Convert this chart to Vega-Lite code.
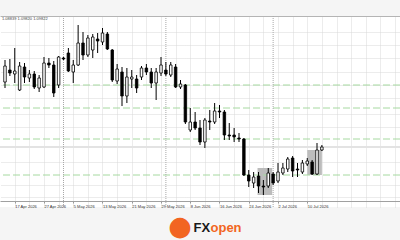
{
  "$schema": "https://vega.github.io/schema/vega-lite/v6.json",
  "autosize": {"type": "none"},
  "width": 400,
  "height": 191,
  "padding": {"top": 16, "left": 0, "right": 0, "bottom": 33},
  "background": "#f5f5f5",
  "title": {"text": "1.08839 1.09820 1.09822", "anchor": "start", "frame": "group", "orient": "top", "offset": -5, "dx": 2, "fontSize": 4, "font": "Liberation Sans", "fontWeight": "normal", "color": "#444444"},
  "config": {"view": {"fill": "white", "stroke": null}},
  "datasets": {
    "candles": [
      {"k":0,"open":1.0925,"high":1.0947,"low":1.0919,"close":1.0941},
      {"k":1,"open":1.0937,"high":1.0948,"low":1.0931,"close":1.0934},
      {"k":2,"open":1.0933,"high":1.0959,"low":1.0924,"close":1.0936},
      {"k":3,"open":1.0917,"high":1.0945,"low":1.0916,"close":1.0941},
      {"k":4,"open":1.0940,"high":1.0944,"low":1.0924,"close":1.0930},
      {"k":5,"open":1.0929,"high":1.0937,"low":1.0925,"close":1.0933},
      {"k":6,"open":1.0933,"high":1.0936,"low":1.0918,"close":1.0920},
      {"k":7,"open":1.0919,"high":1.0932,"low":1.0915,"close":1.0929},
      {"k":8,"open":1.0920,"high":1.0950,"low":1.0919,"close":1.0944},
      {"k":9,"open":1.0944,"high":1.0949,"low":1.0939,"close":1.0942},
      {"k":10,"open":1.0942,"high":1.0946,"low":1.0910,"close":1.0914},
      {"k":11,"open":1.0922,"high":1.0951,"low":1.0919,"close":1.0950},
      {"k":12,"open":1.0949,"high":1.0950,"low":1.0947,"close":1.0948},
      {"k":13,"open":1.0954,"high":1.0959,"low":1.0935,"close":1.0936},
      {"k":14,"open":1.0935,"high":1.0947,"low":1.0924,"close":1.0942},
      {"k":15,"open":1.0942,"high":1.0982,"low":1.0941,"close":1.0964},
      {"k":16,"open":1.0964,"high":1.0975,"low":1.0947,"close":1.0952},
      {"k":17,"open":1.0952,"high":1.0972,"low":1.0950,"close":1.0969},
      {"k":18,"open":1.0957,"high":1.0973,"low":1.0949,"close":1.0970},
      {"k":19,"open":1.0968,"high":1.0974,"low":1.0954,"close":1.0966},
      {"k":20,"open":1.0965,"high":1.0979,"low":1.0962,"close":1.0974},
      {"k":21,"open":1.0973,"high":1.0975,"low":1.0957,"close":1.0958},
      {"k":22,"open":1.0957,"high":1.0958,"low":1.0925,"close":1.0927},
      {"k":23,"open":1.0926,"high":1.0943,"low":1.0923,"close":1.0938},
      {"k":24,"open":1.0935,"high":1.0940,"low":1.0901,"close":1.0911},
      {"k":25,"open":1.0911,"high":1.0939,"low":1.0904,"close":1.0930},
      {"k":26,"open":1.0928,"high":1.0937,"low":1.0919,"close":1.0930},
      {"k":27,"open":1.0928,"high":1.0932,"low":1.0914,"close":1.0919},
      {"k":28,"open":1.0930,"high":1.0941,"low":1.0927,"close":1.0939},
      {"k":29,"open":1.0939,"high":1.0943,"low":1.0932,"close":1.0935},
      {"k":30,"open":1.0935,"high":1.0939,"low":1.0919,"close":1.0924},
      {"k":31,"open":1.0924,"high":1.0939,"low":1.0907,"close":1.0935},
      {"k":32,"open":1.0934,"high":1.0950,"low":1.0931,"close":1.0942},
      {"k":33,"open":1.0937,"high":1.0945,"low":1.0931,"close":1.0933},
      {"k":34,"open":1.0932,"high":1.0945,"low":1.0930,"close":1.0942},
      {"k":35,"open":1.0940,"high":1.0943,"low":1.0919,"close":1.0920},
      {"k":36,"open":1.0920,"high":1.0927,"low":1.0918,"close":1.0923},
      {"k":37,"open":1.0922,"high":1.0923,"low":1.0883,"close":1.0885},
      {"k":38,"open":1.0877,"high":1.0899,"low":1.0875,"close":1.0885},
      {"k":39,"open":1.0885,"high":1.0895,"low":1.0877,"close":1.0879},
      {"k":40,"open":1.0879,"high":1.0887,"low":1.0862,"close":1.0865},
      {"k":41,"open":1.0865,"high":1.0889,"low":1.0859,"close":1.0887},
      {"k":42,"open":1.0886,"high":1.0897,"low":1.0877,"close":1.0885},
      {"k":43,"open":1.0885,"high":1.0904,"low":1.0883,"close":1.0896},
      {"k":44,"open":1.0896,"high":1.0902,"low":1.0889,"close":1.0895},
      {"k":45,"open":1.0895,"high":1.0897,"low":1.0867,"close":1.0872},
      {"k":46,"open":1.0872,"high":1.0884,"low":1.0867,"close":1.0871},
      {"k":47,"open":1.0872,"high":1.0879,"low":1.0865,"close":1.0870},
      {"k":48,"open":1.0869,"high":1.0874,"low":1.0865,"close":1.0868},
      {"k":49,"open":1.0868,"high":1.0869,"low":1.0831,"close":1.0832},
      {"k":50,"open":1.0832,"high":1.0837,"low":1.0820,"close":1.0826},
      {"k":51,"open":1.0824,"high":1.0835,"low":1.0819,"close":1.0830},
      {"k":52,"open":1.0831,"high":1.0835,"low":1.0814,"close":1.0821},
      {"k":53,"open":1.0821,"high":1.0827,"low":1.0812,"close":1.0820},
      {"k":54,"open":1.0821,"high":1.0839,"low":1.0819,"close":1.0834},
      {"k":55,"open":1.0833,"high":1.0835,"low":1.0822,"close":1.0824},
      {"k":56,"open":1.0826,"high":1.0844,"low":1.0824,"close":1.0835},
      {"k":57,"open":1.0834,"high":1.0844,"low":1.0832,"close":1.0839},
      {"k":58,"open":1.0838,"high":1.0850,"low":1.0835,"close":1.0848},
      {"k":59,"open":1.0849,"high":1.0851,"low":1.0830,"close":1.0836},
      {"k":60,"open":1.0838,"high":1.0844,"low":1.0830,"close":1.0837},
      {"k":61,"open":1.0835,"high":1.0847,"low":1.0833,"close":1.0844},
      {"k":62,"open":1.0843,"high":1.0849,"low":1.0841,"close":1.0846},
      {"k":63,"open":1.0845,"high":1.0847,"low":1.0832,"close":1.0833},
      {"k":64,"open":1.0833,"high":1.0864,"low":1.0832,"close":1.0857},
      {"k":65,"open":1.0857,"high":1.0862,"low":1.0856,"close":1.0860}
    ],
    "zones": [
      {"k1":51.8,"k2":54.8,"top":1.0839,"bottom":1.0812},
      {"k1":62,"k2":65,"top":1.0857,"bottom":1.0832}
    ],
    "levels": [
      {"price":1.0922},{"price":1.0899},{"price":1.0868},{"price":1.0832}
    ],
    "bid": [{"price":1.0860}],
    "months": [
      {"k":12,"month":"May"},{"k":33,"month":"Jun"},{"k":55,"month":"Jul"}
    ]
  },
  "resolve": {"axis": {"x": "independent", "y": "independent"}},
  "layer": [
    {
      "data": {"name": "zones"},
      "mark": {"type": "rect", "fill": "#bcbcbc"},
      "encoding": {
        "x": {"field": "k1", "type": "quantitative", "axis": null, "scale": {"domain": [0, 80], "nice": false, "zero": false}},
        "x2": {"field": "k2"},
        "y": {"field": "top", "type": "quantitative", "axis": {
          "orient": "left", "labels": false, "ticks": false, "domain": false, "grid": false,
          "title": "●", "titleX": 179.5, "titleY": 210, "titleAlign": "center", "titleBaseline": "middle", "titleAngle": 0,
          "titleFont": "DejaVu Sans", "titleFontWeight": "normal", "titleFontSize": 27, "titleColor": "#f26522"
        }, "scale": {"domain": [1.08, 1.0991], "nice": false, "zero": false}},
        "y2": {"field": "bottom"}
      }
    },
    {
      "data": {"name": "bid"},
      "mark": {"type": "rule", "color": "#e3e3e3", "strokeWidth": 2},
      "encoding": {"y": {"field": "price", "type": "quantitative", "axis": {
          "orient": "right", "labels": false, "ticks": false, "domain": false, "title": null,
          "grid": true, "gridColor": "#d9d9d9", "gridDash": [1, 1], "gridWidth": 1,
          "values": [1.0975, 1.0962, 1.0949, 1.0935, 1.0922, 1.0909, 1.0893, 1.0880, 1.0845, 1.0822, 1.0810]
        }}}
    },
    {
      "data": {"name": "levels"},
      "mark": {"type": "rule", "color": "#a6d9a0", "strokeWidth": 1, "strokeDash": [7, 3]},
      "encoding": {"y": {"field": "price", "type": "quantitative", "axis": null}}
    },
    {
      "data": {"name": "months"},
      "mark": {"type": "rule", "color": "#a8a8a8", "strokeWidth": 1, "strokeDash": [1, 1]},
      "encoding": {
        "x": {"field": "k", "type": "quantitative", "axis": {
          "orient": "top", "title": "open", "titleX": 210, "titleY": 215, "titleAlign": "left", "titleBaseline": "alphabetic", "titleAngle": 0,
          "titleFont": "Liberation Sans", "titleFontWeight": "bold", "titleFontSize": 13, "titleColor": "#f26522",
          "labels": false, "ticks": false, "domain": true, "domainColor": "#b4b4b4", "domainWidth": 1,
          "grid": true, "gridColor": "#d9d9d9", "gridDash": [1, 1], "gridWidth": 1,
          "values": [2,5,8,11,14,17,20,23,26,29,32,35,38,41,44,47,50,53,56,59,62,65,68,71,74,77,80]
        }}
      }
    },
    {
      "data": {"name": "candles"},
      "mark": {"type": "rule", "color": "#000000", "strokeWidth": 1},
      "encoding": {
        "x": {"field": "k", "type": "quantitative", "axis": null},
        "y": {"field": "low", "type": "quantitative", "axis": null},
        "y2": {"field": "high"}
      }
    },
    {
      "data": {"name": "candles"},
      "mark": {"type": "bar", "size": 2.5, "stroke": "#000000", "strokeWidth": 0.8},
      "encoding": {
        "x": {"field": "k", "type": "quantitative", "axis": {
          "orient": "bottom", "offset": -6, "values": [2,8,14,20,26,32,38,44,50,56,62],
          "labelExpr": "['17 Apr 2026','27 Apr 2026','5 May 2026','13 May 2026','21 May 2026','29 May 2026','8 Jun 2026','16 Jun 2026','24 Jun 2026','2 Jul 2026','10 Jul 2026'][(datum.value-2)/6]",
          "labelAlign": "left", "labelFont": "Liberation Sans", "labelFontSize": 4, "labelColor": "#333333", "labelPadding": 1, "labelFlush": false, "labelOverlap": false,
          "ticks": true, "tickSize": 2, "tickColor": "#999999", "domain": true, "domainColor": "#a0a0a0", "domainWidth": 1, "grid": false,
          "title": "FX", "titleX": 193, "titleY": 30, "titleAlign": "left", "titleBaseline": "alphabetic", "titleAngle": 0,
          "titleFont": "Liberation Sans", "titleFontWeight": "bold", "titleFontSize": 13, "titleColor": "#1a1a1a"
        }},
        "y": {"field": "open", "type": "quantitative", "axis": null},
        "y2": {"field": "close"},
        "fill": {"condition": {"test": "datum.close < datum.open", "value": "#000000"}, "value": "#ffffff"}
      }
    }
  ]
}
